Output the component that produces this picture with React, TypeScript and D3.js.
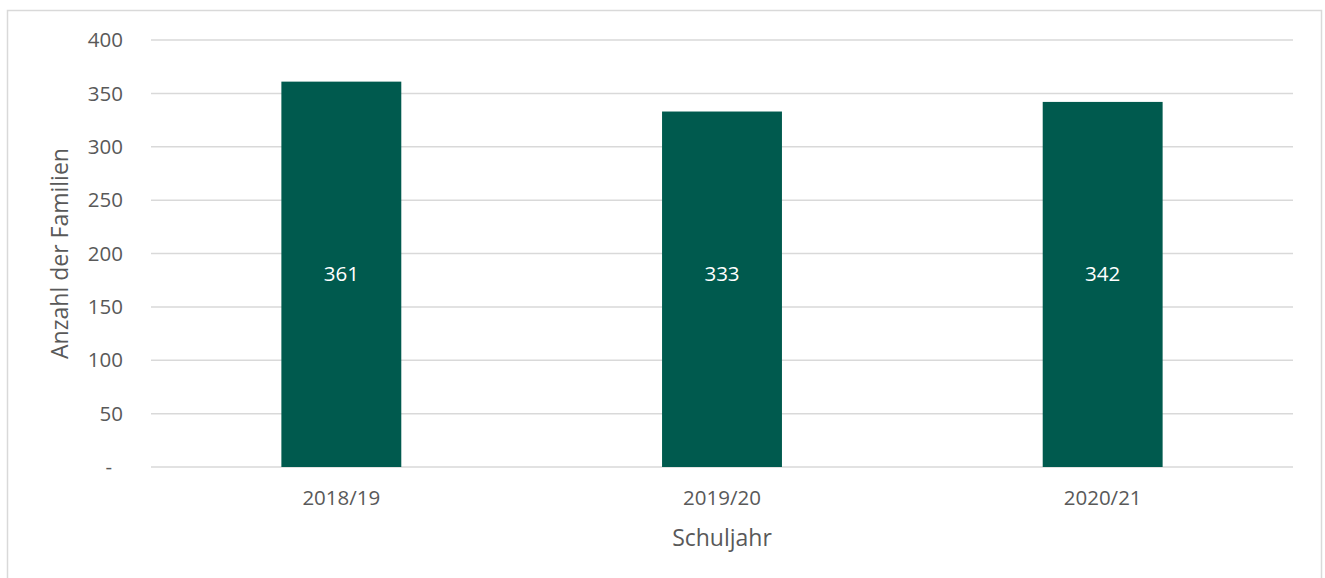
import React, { useEffect, useRef } from "react";
import * as d3 from "d3";

const years = ["2018/19", "2019/20", "2020/21"];
const families = [361, 333, 342];
const yTicks = [0, 50, 100, 150, 200, 250, 300, 350, 400];

export default function App() {
  const svgRef = useRef<SVGSVGElement>(null);
  const width = 1325;
  const height = 578;

  useEffect(() => {
    const svg = d3.select(svgRef.current);
    svg.selectAll("*").remove();

    const font = "'Open Sans', sans-serif";
    const textColor = "#595959";

    // chart frame
    svg
      .append("rect")
      .attr("x", 7.5)
      .attr("y", 10.5)
      .attr("width", 1314)
      .attr("height", 600)
      .attr("fill", "#fff")
      .attr("stroke", "#d9d9d9")
      .attr("stroke-width", 1.5);

    const margin = { top: 40, left: 151, right: 32, bottom: 111 };
    const chartWidth = width - margin.left - margin.right;
    const chartHeight = height - margin.top - margin.bottom;

    const x = d3
      .scaleBand()
      .domain(years)
      .range([0, chartWidth])
      .paddingInner(0.685)
      .paddingOuter(0.3425);

    const y = d3.scaleLinear().domain([0, 400]).range([chartHeight, 0]);

    const g = svg
      .append("g")
      .attr("transform", `translate(${margin.left},${margin.top})`);

    // gridlines
    g.selectAll("line.grid")
      .data(yTicks)
      .enter()
      .append("line")
      .attr("class", "grid")
      .attr("x1", 0)
      .attr("x2", chartWidth)
      .attr("y1", (d) => y(d))
      .attr("y2", (d) => y(d))
      .attr("stroke", "#d9d9d9")
      .attr("stroke-width", 1.5);

    // y tick labels
    g.selectAll("text.ytick")
      .data(yTicks)
      .enter()
      .append("text")
      .attr("class", "ytick")
      .attr("x", (d) => (d === 0 ? -39 : -28))
      .attr("y", (d) => y(d))
      .attr("dy", "0.35em")
      .attr("text-anchor", "end")
      .attr("font-family", font)
      .attr("font-size", 20.5)
      .attr("fill", textColor)
      .text((d) => (d === 0 ? "-" : String(d)));

    // bars
    g.selectAll("rect.bar")
      .data(families)
      .enter()
      .append("rect")
      .attr("class", "bar")
      .attr("x", (d, i) => x(years[i])!)
      .attr("y", (d) => y(d))
      .attr("width", x.bandwidth())
      .attr("height", (d) => chartHeight - y(d))
      .attr("fill", "#005A4E");

    // value labels (all sit at about the same height, like the source)
    const labelLevel = d3.min(families)! / 2 + 14;
    g.selectAll("text.value")
      .data(families)
      .enter()
      .append("text")
      .attr("class", "value")
      .attr("x", (d, i) => x(years[i])! + x.bandwidth() / 2)
      .attr("y", y(labelLevel))
      .attr("dy", "0.35em")
      .attr("text-anchor", "middle")
      .attr("font-family", font)
      .attr("font-size", 20.5)
      .attr("fill", "#fff")
      .text((d) => d);

    // x tick labels
    g.selectAll("text.xtick")
      .data(years)
      .enter()
      .append("text")
      .attr("class", "xtick")
      .attr("x", (d) => x(d)! + x.bandwidth() / 2)
      .attr("y", chartHeight + 31)
      .attr("dy", "0.35em")
      .attr("text-anchor", "middle")
      .attr("font-family", font)
      .attr("font-size", 20.5)
      .attr("fill", textColor)
      .text((d) => d);

    // axis titles
    svg
      .append("text")
      .attr("x", margin.left + chartWidth / 2)
      .attr("y", 538)
      .attr("dy", "0.35em")
      .attr("text-anchor", "middle")
      .attr("font-family", font)
      .attr("font-size", 23)
      .attr("fill", textColor)
      .text("Schuljahr");

    svg
      .append("text")
      .attr("transform", `translate(60,${margin.top + chartHeight / 2}) rotate(-90)`)
      .attr("dy", "0.35em")
      .attr("text-anchor", "middle")
      .attr("font-family", font)
      .attr("font-size", 23)
      .attr("fill", textColor)
      .text("Anzahl der Familien");
  }, []);

  return (
    <svg
      ref={svgRef}
      width={width}
      height={height}
      style={{ position: "absolute", left: 0, top: 0 }}
    ></svg>
  );
}
